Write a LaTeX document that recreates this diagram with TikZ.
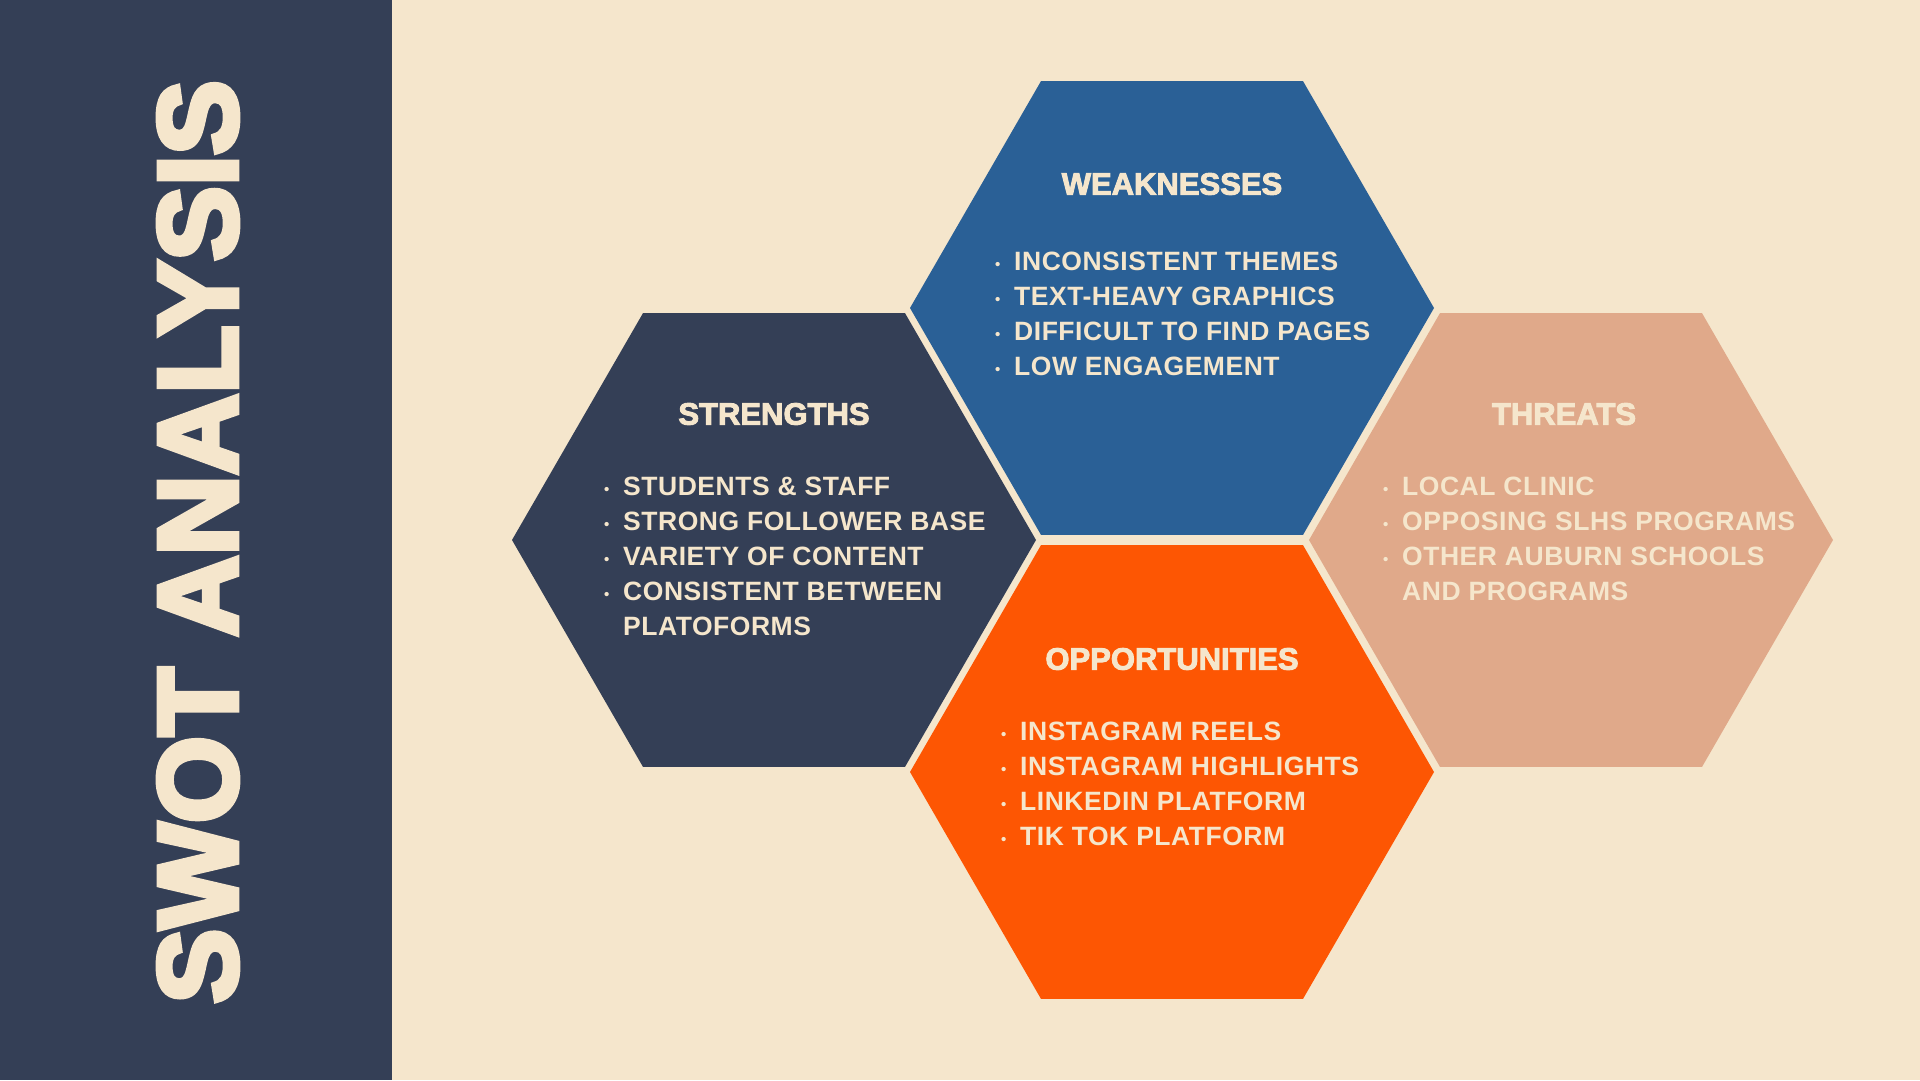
\documentclass[tikz,border=0pt]{standalone}
\usepackage{fontspec}
\setmainfont{Liberation Sans}
\newfontfamily\heavyfont{Liberation Sans}[BoldFeatures={FakeBold=3}]
\newfontfamily\titlefont{Liberation Sans}[BoldFeatures={FakeBold=5}]
\newfontfamily\itemfont{Liberation Sans}[LetterSpace=2]
\usetikzlibrary{shapes.geometric,positioning}
\definecolor{navy}{HTML}{343F56}
\definecolor{cream}{HTML}{F5E6CC}
\definecolor{weakblue}{HTML}{2A6096}
\definecolor{opporange}{HTML}{FD5603}
\definecolor{threatpeach}{HTML}{E0A98A}
\newcommand{\bul}{\makebox[19pt][l]{\raisebox{1pt}{\fontsize{15}{15}\selectfont\textbullet}}}
\newcommand{\nobul}{\makebox[19pt][l]{}}

\begin{document}
\begin{tikzpicture}[x=1pt,y=-1pt,
  hexa/.style={regular polygon, regular polygon sides=6, minimum size=524pt, inner sep=0pt},
  head/.style={text=cream, font=\heavyfont\bfseries\fontsize{31}{31}\selectfont},
  items/.style={text=cream, font=\itemfont\bfseries\fontsize{26.5}{35}\selectfont, align=left, anchor=west, inner sep=0pt}]
% Page and side band
\useasboundingbox (0,0) rectangle (1920,1080);
\fill[cream] (0,0) rectangle (1920,1080);
\fill[navy] (0,0) rectangle (392,1080);
\node[rotate=90, text=cream, font=\titlefont\bfseries\fontsize{112}{112}\selectfont] (title) at (198,542) {SWOT ANALYSIS};
% Hexagons
\node[hexa, fill=navy] (str) at (774,540) {};
\node[hexa, fill=weakblue] (weak) at (1172,308) {};
\node[hexa, fill=threatpeach] (thr) at (1571,540) {};
\node[hexa, fill=opporange] (opp) at (1172,772) {};
% Headings
\node[head] (strhead) at (774,414) {STRENGTHS};
\node[head] (weakhead) at (1172,184) {WEAKNESSES};
\node[head] (thrhead) at (1564,414) {THREATS};
\node[head] (opphead) at (1172,659) {OPPORTUNITIES};
% Lists
\node[items] (strlist) at (604,556) {\bul STUDENTS \& STAFF\\ \bul STRONG FOLLOWER BASE\\ \bul VARIETY OF CONTENT\\ \bul CONSISTENT BETWEEN\\ \nobul PLATOFORMS};
\node[items] (weaklist) at (995,313.5) {\bul INCONSISTENT THEMES\\ \bul TEXT-HEAVY GRAPHICS\\ \bul DIFFICULT TO FIND PAGES\\ \bul LOW ENGAGEMENT};
\node[items] (thrlist) at (1383,538.5) {\bul LOCAL CLINIC\\ \bul OPPOSING SLHS PROGRAMS\\ \bul OTHER AUBURN SCHOOLS\\ \nobul AND PROGRAMS};
\node[items] (opplist) at (1001,783.5) {\bul INSTAGRAM REELS\\ \bul INSTAGRAM HIGHLIGHTS\\ \bul LINKEDIN PLATFORM\\ \bul TIK TOK PLATFORM};
\end{tikzpicture}
\end{document}
